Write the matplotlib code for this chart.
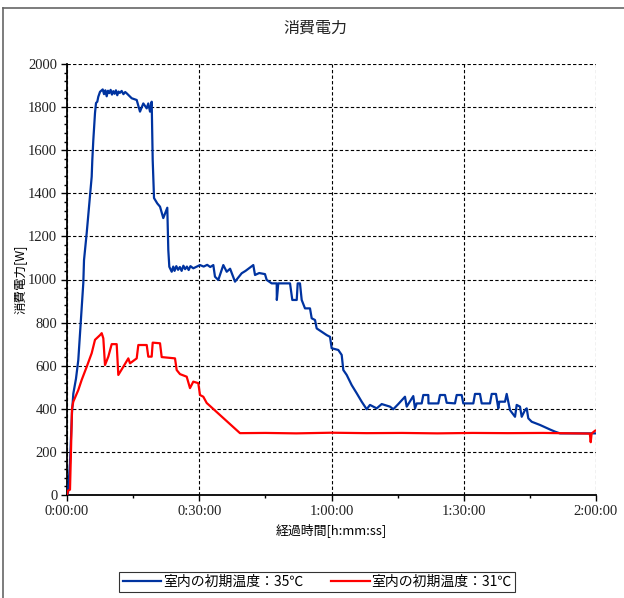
import numpy as np
import matplotlib
matplotlib.use('Agg')
import matplotlib.pyplot as plt
from matplotlib.lines import Line2D
from matplotlib.ticker import MultipleLocator, FuncFormatter

plt.rcParams['font.family'] = ['Noto Sans CJK JP', 'DejaVu Sans']

# 経過時間[分] と 消費電力[W]（室内の初期温度 35℃）
t_35 = [0, 0.23, 0.68, 1.13, 1.43, 2.04, 2.56, 3.70, 3.86, 4.47, 5.06, 5.60, 5.74,
        5.97, 6.35, 6.58, 6.87, 7.10, 7.49, 8.10, 8.4, 8.7, 9.0, 9.3, 9.6, 9.9,
        10.2, 10.5, 10.8, 11.1, 11.4, 11.7, 12.0, 12.4, 12.8, 13.2, 13.54, 14.68,
        15.81, 16.56, 17.31, 18.08, 18.44, 18.83, 19.21, 19.44, 19.74, 20.48,
        21.10, 21.84, 22.75, 22.98, 23.21, 23.75, 24.1, 24.4, 24.8, 25.2, 25.6,
        26.0, 26.4, 26.8, 27.2, 27.6, 28.0, 28.65, 30.17, 31.0, 31.8, 32.5, 33.19,
        33.57, 34.32, 35.46, 36.23, 37.0, 38.11, 39.63, 40.5, 41.3, 42.26, 42.65,
        43.6, 44.91, 45.30, 46.43, 47.57,
        47.60, 47.93, 50.59, 51.11, 52.11, 52.33, 52.85, 53.24, 53.99, 55.12,
        55.51, 56.26, 56.64, 58.91, 59.66, 60.04, 61.54, 62.31, 62.68, 63.45,
        64.58, 65.72, 66.85, 67.98, 68.73, 70.25, 71.39, 73.27, 74.02, 75.15,
        76.67, 77.06, 78.55, 78.94, 79.33, 80.46, 80.82, 81.96, 82.0, 84.23,
        84.61, 85.75, 86.13, 88.01, 88.40, 89.53, 89.90, 92.17, 92.55, 93.68,
        94.07, 95.95, 96.34, 97.31, 97.84, 98.06, 99.36, 99.74, 100.49, 101.63,
        102.01, 102.76, 103.15, 103.89, 104.28, 104.64, 105.41, 107.30, 109.56,
        110.70, 111.83, 119.77, 120]
w_35 = [0, 10, 150, 380, 470, 540, 626, 984, 1090, 1216, 1355, 1477, 1554,
        1647, 1772, 1819, 1825, 1848, 1871, 1882, 1860, 1878, 1850, 1876, 1865, 1880,
        1858, 1874, 1862, 1878, 1855, 1872, 1866, 1875, 1860, 1870, 1864, 1841,
        1833, 1779, 1817, 1794, 1817, 1779, 1825, 1554, 1378, 1353,
        1338, 1285, 1333, 1137, 1059, 1036, 1060, 1040, 1062, 1045, 1058,
        1040, 1064, 1048, 1060, 1044, 1062, 1052, 1067, 1060, 1068, 1058, 1067,
        1013, 998, 1067, 1036, 1050, 990, 1029, 1040, 1052, 1067, 1021,
        1030, 1025, 998, 982, 982,
        905, 982, 982, 905, 905, 982, 982, 905, 866, 866,
        820, 812, 773, 742, 734, 681, 673, 650, 580, 557,
        510, 472, 433, 398, 418, 402, 422, 410, 398, 422,
        456, 410, 459, 402, 425, 425, 464, 464, 425, 425,
        464, 464, 428, 425, 464, 464, 425, 425, 469, 469,
        425, 425, 469, 469, 402, 433, 433, 469, 394, 363,
        418, 410, 363, 394, 402, 356, 340, 325, 304,
        294, 286, 286, 286]

# 室内の初期温度 31℃
t_31 = [0, 0.23, 0.68, 0.9, 1.13, 1.43, 2.56, 3.33, 4.47, 5.60, 6.35, 7.49, 7.87,
        8.24, 8.62, 9.37, 10.14, 11.27, 11.64, 12.77, 13.91, 14.29, 15.81, 16.18,
        18.08, 18.44, 19.21, 19.44, 21.10, 21.48, 24.50, 24.88, 25.63, 27.15,
        27.90, 28.65, 29.78, 30.17, 30.92, 31.69, 39.24, 45, 52, 60, 68, 76, 84,
        92, 100, 108, 115, 118.6, 118.8, 119.0, 119.77, 120]
w_31 = [0, 20, 25, 200, 400, 433, 487, 534, 595, 658, 720, 742, 751,
        727, 603, 642, 700, 700, 557, 595, 634, 611, 634, 696,
        696, 642, 642, 707, 704, 640, 634, 580, 561, 549,
        496, 526, 519, 464, 456, 427, 287, 288, 286, 289, 287, 288, 286,
        288, 287, 288, 286, 285, 245, 285, 298, 300]


def hms(x, pos):
    m = int(round(x))
    return f'{m // 60}:{m % 60:02d}:00'


fig = plt.figure(figsize=(6.24, 5.98), dpi=100)
ax = fig.add_axes([67 / 624, 1 - 495 / 598, 529 / 624, 431 / 598])

ax.plot(t_35, w_35, color='#0033a0', lw=1.6, label='室内の初期温度：35℃', zorder=3)
ax.plot(t_31, w_31, color='#ff0000', lw=1.6, label='室内の初期温度：31℃', zorder=3)

ax.set_xlim(0, 120)
ax.set_ylim(0, 2000)
ax.xaxis.set_major_locator(MultipleLocator(30))
ax.xaxis.set_minor_locator(MultipleLocator(15))
ax.yaxis.set_major_locator(MultipleLocator(200))
ax.yaxis.set_minor_locator(MultipleLocator(40))
ax.xaxis.set_major_formatter(FuncFormatter(hms))

ax.grid(True, which='major', color='black', ls=(0, (3, 2)), lw=0.8)
ax.set_axisbelow(True)
for s in ['top', 'right']:
    ax.spines[s].set_visible(False)
for s in ['left', 'bottom']:
    ax.spines[s].set_linewidth(1.3)
ax.tick_params(which='major', direction='out', length=4, width=1, pad=3)
ax.tick_params(which='minor', direction='out', length=2.5, width=1)
for lab in ax.get_xticklabels() + ax.get_yticklabels():
    lab.set_family('Liberation Serif')
    lab.set_fontsize(10.5)
    lab.set_color('#222222')

ax.set_xlabel('経過時間[h:mm:ss]', fontsize=9.3, labelpad=4)
ax.set_ylabel('消費電力[W]', fontsize=9, labelpad=1)
fig.text(315 / 624, 1 - 28 / 598, '消費電力', ha='center', va='center', fontsize=11.5, color='#222222')

leg = fig.legend(loc='center', bbox_to_anchor=(317 / 624, 1 - 582 / 598), ncol=2,
                 fontsize=10, frameon=True, fancybox=False, handlelength=2.8,
                 columnspacing=2.0, borderpad=0.25, handletextpad=0.1)
leg.get_frame().set_edgecolor('black')
leg.get_frame().set_linewidth(0.8)

# 外枠
fig.add_artist(Line2D([3 / 624, 3 / 624], [0, 1 - 8 / 598], color='#666666', lw=1.2))
fig.add_artist(Line2D([3 / 624, 1], [1 - 8 / 598, 1 - 8 / 598], color='#666666', lw=1.2))

fig.savefig('out.png', dpi=100)
